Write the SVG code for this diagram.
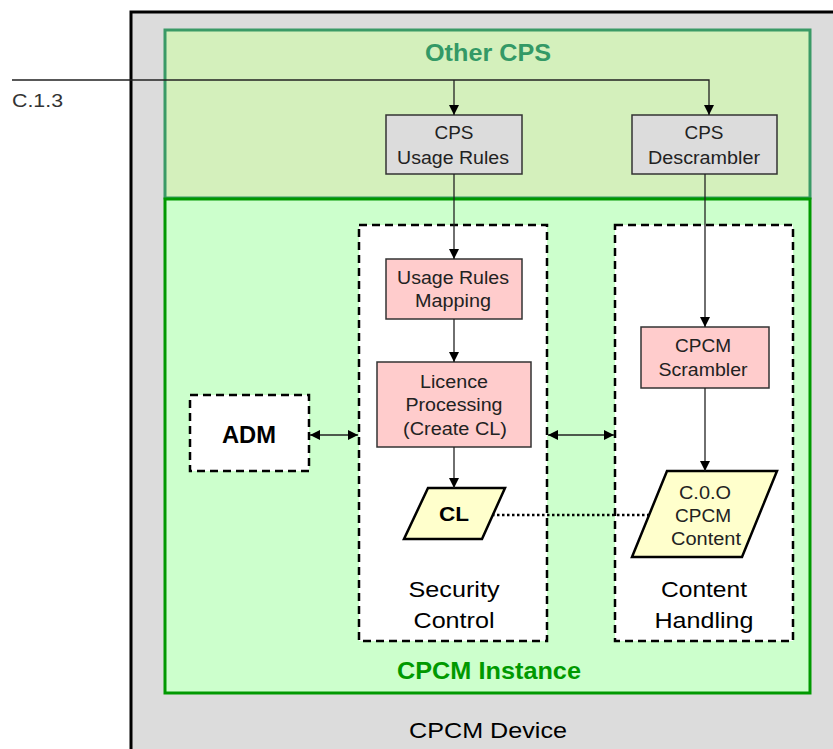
<svg xmlns="http://www.w3.org/2000/svg" width="833" height="749" viewBox="0 0 833 749">
<style>
text{font-family:"Liberation Sans",Arial,sans-serif;text-anchor:middle;}
.lbl{font-size:17.5px;fill:#222;}
.big{font-size:22px;fill:#000;}
.bold{font-weight:bold;}
.gray{fill:#DCDCDC;stroke:#333;stroke-width:1.5;}
.pink{fill:#FFCCCC;stroke:#333;stroke-width:1.5;}
.dash{fill:#FFFFFF;stroke:#000;stroke-width:2.5;stroke-dasharray:8,5;}
.para{fill:#FFFFCC;stroke:#000;stroke-width:2.5;}
.conn{fill:none;stroke:#222;stroke-width:1.3;}
</style>
<defs>
<marker id="ah" viewBox="0 0 10 10" refX="10" refY="5" markerWidth="10" markerHeight="10" markerUnits="userSpaceOnUse" orient="auto-start-reverse">
<path d="M0,0 L10,5 L0,10 z" fill="#000"/>
</marker>
</defs>
<rect width="833" height="749" fill="#FFFFFF"/>
<g id="cpcm-device">
<rect x="131" y="12" width="720" height="760" fill="#DCDCDC" stroke="#000" stroke-width="3"/>
<text class="big" x="488" y="738" textLength="158" lengthAdjust="spacingAndGlyphs">CPCM Device</text>
</g>
<g id="other-cps">
<rect x="165" y="30" width="645" height="168" fill="#D4F0BC" stroke="#3A9A66" stroke-width="3"/>
<text x="488" y="61" textLength="126" lengthAdjust="spacingAndGlyphs" style="font-size:24px;font-weight:bold;fill:#339966">Other CPS</text>
</g>
<g id="cpcm-instance">
<rect x="165" y="199" width="645" height="494" fill="#CCFFCC" stroke="#009900" stroke-width="3"/>
<text x="489" y="679" textLength="184" lengthAdjust="spacingAndGlyphs" style="font-size:23px;font-weight:bold;fill:#009900">CPCM Instance</text>
</g>
<g id="security-control">
<rect class="dash" x="359" y="225" width="188" height="416"/>
<text class="big" x="454" y="597" textLength="91" lengthAdjust="spacingAndGlyphs">Security</text>
<text class="big" x="454" y="628" textLength="81" lengthAdjust="spacingAndGlyphs">Control</text>
</g>
<g id="content-handling">
<rect class="dash" x="615" y="225" width="178" height="416"/>
<text class="big" x="704" y="597" textLength="86" lengthAdjust="spacingAndGlyphs">Content</text>
<text class="big" x="704" y="628" textLength="99" lengthAdjust="spacingAndGlyphs">Handling</text>
</g>
<g id="adm">
<rect class="dash" x="190" y="395" width="119" height="76"/>
<text class="big bold" x="249" y="443" textLength="54" lengthAdjust="spacingAndGlyphs" style="font-size:24px">ADM</text>
</g>
<g id="cps-usage-rules">
<rect class="gray" x="386" y="115" width="136" height="59"/>
<text class="lbl" x="454" y="139" textLength="39" lengthAdjust="spacingAndGlyphs">CPS</text>
<text class="lbl" x="453" y="164" textLength="112" lengthAdjust="spacingAndGlyphs">Usage Rules</text>
</g>
<g id="cps-descrambler">
<rect class="gray" x="632" y="115" width="145" height="59"/>
<text class="lbl" x="704" y="139" textLength="39" lengthAdjust="spacingAndGlyphs">CPS</text>
<text class="lbl" x="704" y="164" textLength="112" lengthAdjust="spacingAndGlyphs">Descrambler</text>
</g>
<g id="usage-rules-mapping">
<rect class="pink" x="386" y="259" width="136" height="60"/>
<text class="lbl" x="453" y="284" textLength="112" lengthAdjust="spacingAndGlyphs">Usage Rules</text>
<text class="lbl" x="453" y="307" textLength="76" lengthAdjust="spacingAndGlyphs">Mapping</text>
</g>
<g id="licence-processing">
<rect class="pink" x="377" y="362" width="154" height="85"/>
<text class="lbl" x="454" y="388" textLength="68" lengthAdjust="spacingAndGlyphs">Licence</text>
<text class="lbl" x="454" y="411" textLength="97" lengthAdjust="spacingAndGlyphs">Processing</text>
<text class="lbl" x="455" y="435" textLength="104" lengthAdjust="spacingAndGlyphs">(Create CL)</text>
</g>
<g id="cpcm-scrambler">
<rect class="pink" x="641" y="327" width="128" height="61"/>
<text class="lbl" x="703" y="352" textLength="56" lengthAdjust="spacingAndGlyphs">CPCM</text>
<text class="lbl" x="703" y="376" textLength="89" lengthAdjust="spacingAndGlyphs">Scrambler</text>
</g>
<g id="cl">
<polygon class="para" points="428,488 505,488 482,539 404,539"/>
<text class="big bold" x="454" y="521" textLength="30" lengthAdjust="spacingAndGlyphs" style="font-size:20px">CL</text>
</g>
<g id="coo-content">
<polygon class="para" points="667,471 777,471 742,557 632,557"/>
<text class="lbl" x="705" y="499" textLength="52" lengthAdjust="spacingAndGlyphs">C.0.O</text>
<text class="lbl" x="703" y="522" textLength="56" lengthAdjust="spacingAndGlyphs">CPCM</text>
<text class="lbl" x="706" y="545" textLength="70" lengthAdjust="spacingAndGlyphs">Content</text>
</g>
<g id="connectors">
<polyline class="conn" points="12,80 709,80 709,115" marker-end="url(#ah)"/>
<line class="conn" x1="454" y1="80" x2="454" y2="115" marker-end="url(#ah)"/>
<line class="conn" x1="454" y1="174" x2="454" y2="259" marker-end="url(#ah)"/>
<line class="conn" x1="454" y1="319" x2="454" y2="362" marker-end="url(#ah)"/>
<line class="conn" x1="454" y1="447" x2="454" y2="488" marker-end="url(#ah)"/>
<line class="conn" x1="705" y1="174" x2="705" y2="327" marker-end="url(#ah)"/>
<line class="conn" x1="705" y1="388" x2="705" y2="471" marker-end="url(#ah)"/>
<line class="conn" x1="310" y1="435" x2="358" y2="435" marker-start="url(#ah)" marker-end="url(#ah)"/>
<line class="conn" x1="548" y1="435" x2="614" y2="435" marker-start="url(#ah)" marker-end="url(#ah)"/>
<line x1="492" y1="515" x2="651" y2="515" stroke="#000" stroke-width="2.5" stroke-dasharray="2.5,2.5"/>
<text x="12" y="107" textLength="51" lengthAdjust="spacingAndGlyphs" style="font-size:19px;fill:#333;text-anchor:start">C.1.3</text>
</g>
</svg>
